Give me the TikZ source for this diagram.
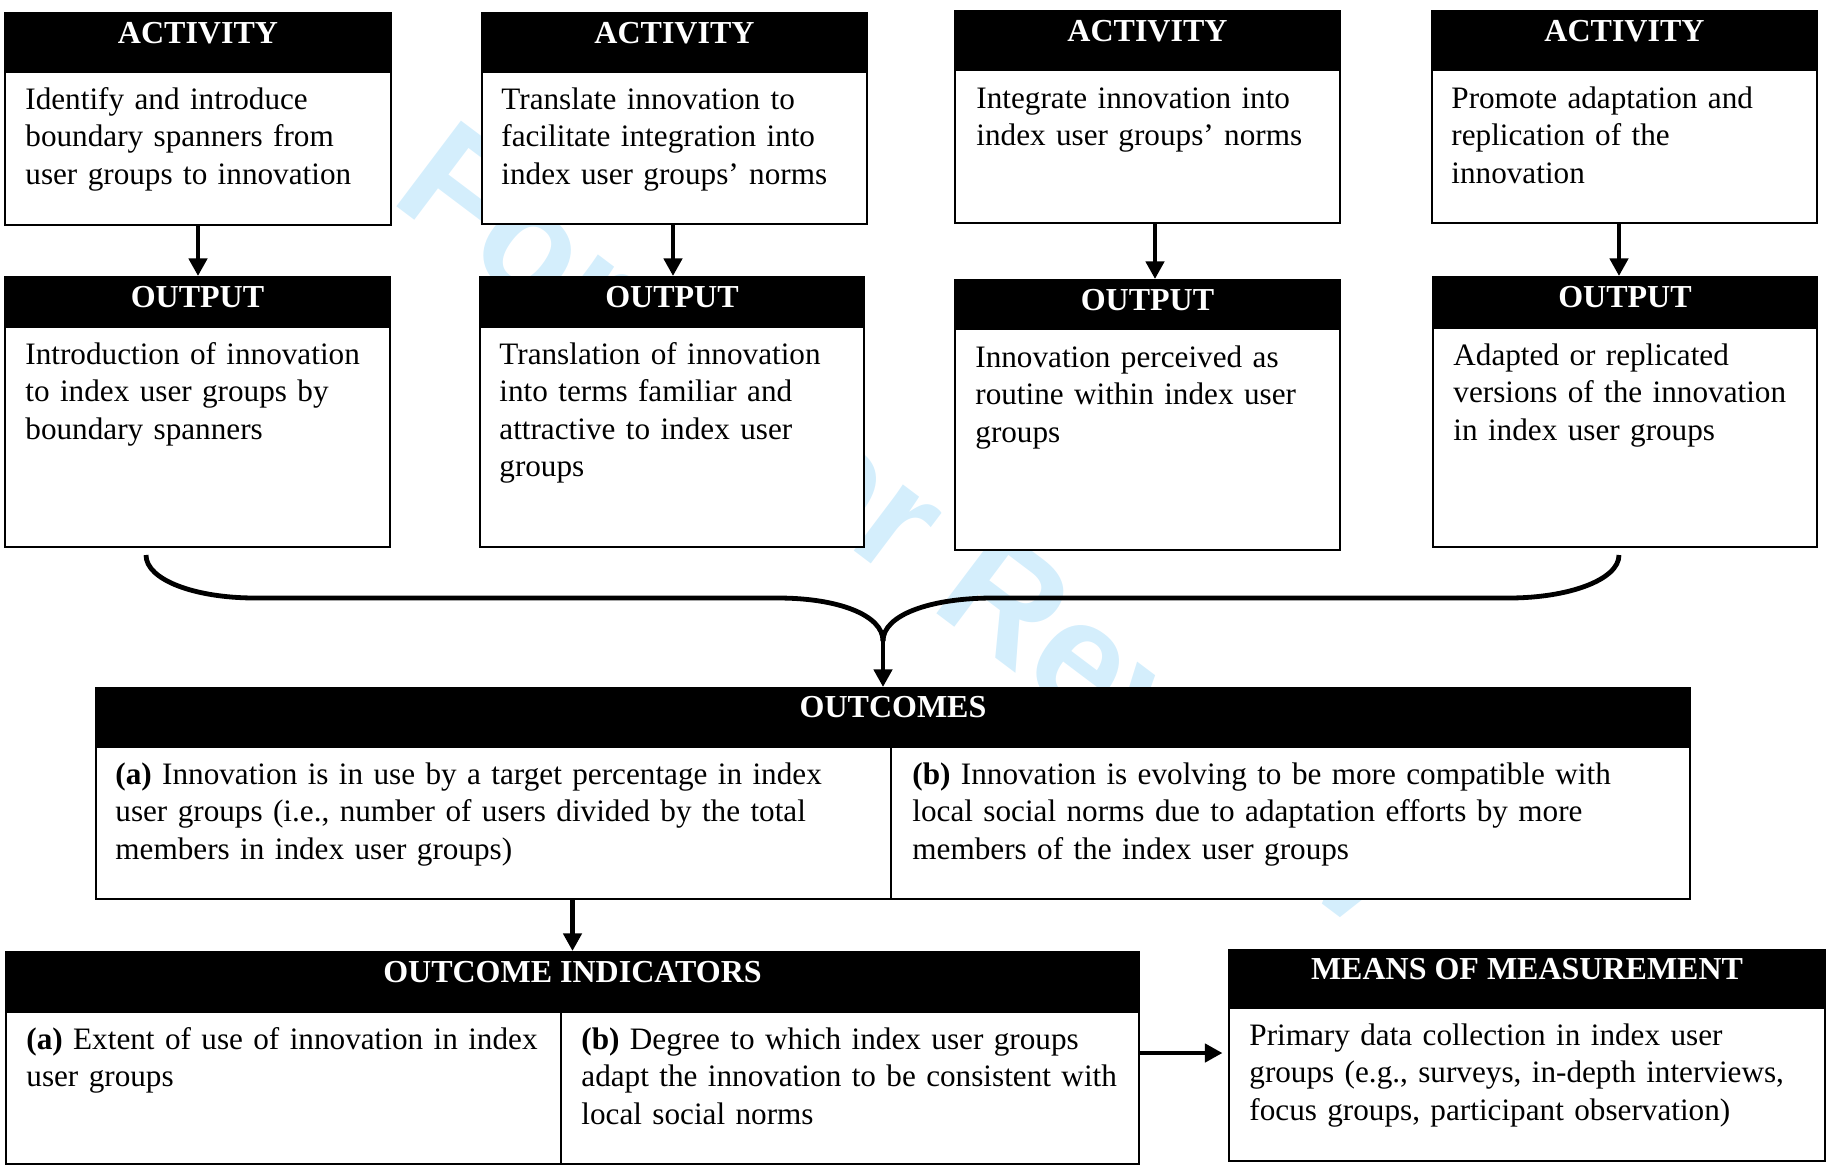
\documentclass[tikz,border=0pt]{standalone}
\usepackage{fontspec}
\setmainfont{Liberation Serif}
\newfontfamily\wmfont{Liberation Sans}
\usetikzlibrary{arrows.meta,calc}
\definecolor{wmblue}{RGB}{212,238,252}
\tikzset{
  hdr/.style={draw=black, fill=black, line width=1pt, inner sep=0pt, anchor=north west},
  bodybox/.style={draw=black, fill=white, line width=1pt, inner sep=0pt, anchor=north west},
  ttl/.style={text=white, font=\bfseries\fontsize{16}{18.8}\selectfont, anchor=base, inner sep=0pt},
  txt/.style={font=\fontsize{15.6}{18.75}\selectfont, anchor=base west, inner sep=0pt, align=left, text width=#1},
  divline/.style={draw=black, line width=1pt},
  arr/.style={line width=2.4pt, -{Triangle[length=8.8pt,width=9pt]}},
  brace/.style={line width=2.4pt, line join=round},
  wmark/.style={text=wmblue, font=\wmfont\bfseries\fontsize{78}{78}\selectfont, anchor=base west, inner sep=0pt, rotate=-37}
}
\begin{document}
\begin{tikzpicture}[x=0.5pt,y=-0.5pt]
\useasboundingbox (0,0) rectangle (1828,1169);

% watermark (behind boxes)
\node[wmark] (wm) at (388,200) {For Peer Review};

% ---------- ACTIVITY boxes ----------
\node[hdr, minimum width=193pt, minimum height=29.5pt] (a1h) at (4,12) {};
\node[bodybox, minimum width=193pt, minimum height=76.5pt] (a1) at (4,71) {};
\node[ttl] (a1t) at ($(a1h.north)+(0,31)$) {ACTIVITY};
\node[txt=180pt] (a1x) at ($(a1.north west)+(21,38)$) {Identify and introduce\\boundary spanners from\\user groups to innovation};

\node[hdr, minimum width=192.5pt, minimum height=29.5pt] (a2h) at (481,12) {};
\node[bodybox, minimum width=192.5pt, minimum height=76pt] (a2) at (481,71) {};
\node[ttl] (a2t) at ($(a2h.north)+(0,31)$) {ACTIVITY};
\node[txt=180pt] (a2x) at ($(a2.north west)+(20,38)$) {Translate innovation to\\facilitate integration into\\index user groups’ norms};

\node[hdr, minimum width=192.5pt, minimum height=29.5pt] (a3h) at (954,10) {};
\node[bodybox, minimum width=192.5pt, minimum height=76.5pt] (a3) at (954,69) {};
\node[ttl] (a3t) at ($(a3h.north)+(0,31)$) {ACTIVITY};
\node[txt=180pt] (a3x) at ($(a3.north west)+(22,39)$) {Integrate innovation into\\index user groups’ norms};

\node[hdr, minimum width=192.5pt, minimum height=29.5pt] (a4h) at (1431,10) {};
\node[bodybox, minimum width=192.5pt, minimum height=76.5pt] (a4) at (1431,69) {};
\node[ttl] (a4t) at ($(a4h.north)+(0,31)$) {ACTIVITY};
\node[txt=180pt] (a4x) at ($(a4.north west)+(20,39)$) {Promote adaptation and\\replication of the\\innovation};

% ---------- OUTPUT boxes ----------
\node[hdr, minimum width=192.5pt, minimum height=25pt] (o1h) at (4,276) {};
\node[bodybox, minimum width=192.5pt, minimum height=110pt] (o1) at (4,326) {};
\node[ttl] (o1t) at ($(o1h.north)+(0,31)$) {OUTPUT};
\node[txt=180pt] (o1x) at ($(o1.north west)+(21,38)$) {Introduction of innovation\\to index user groups by\\boundary spanners};

\node[hdr, minimum width=192pt, minimum height=25pt] (o2h) at (479,276) {};
\node[bodybox, minimum width=192pt, minimum height=110pt] (o2) at (479,326) {};
\node[ttl] (o2t) at ($(o2h.north)+(0,31)$) {OUTPUT};
\node[txt=180pt] (o2x) at ($(o2.north west)+(20,38)$) {Translation of innovation\\into terms familiar and\\attractive to index user\\groups};

\node[hdr, minimum width=192.5pt, minimum height=24.5pt] (o3h) at (954,279) {};
\node[bodybox, minimum width=192.5pt, minimum height=110.5pt] (o3) at (954,328) {};
\node[ttl] (o3t) at ($(o3h.north)+(0,31)$) {OUTPUT};
\node[txt=180pt] (o3x) at ($(o3.north west)+(21,39)$) {Innovation perceived as\\routine within index user\\groups};

\node[hdr, minimum width=192pt, minimum height=25.5pt] (o4h) at (1432,276) {};
\node[bodybox, minimum width=192pt, minimum height=109.5pt] (o4) at (1432,327) {};
\node[ttl] (o4t) at ($(o4h.north)+(0,31)$) {OUTPUT};
\node[txt=180pt] (o4x) at ($(o4.north west)+(21,38)$) {Adapted or replicated\\versions of the innovation\\in index user groups};

% activity -> output arrows
\draw[arr] ($(a1.south west)+(194,0)$) -- ($(o1h.north west)+(194,0)$);
\draw[arr] ($(a2.south west)+(192,0)$) -- ($(o2h.north west)+(194,0)$);
\draw[arr] ($(a3.south west)+(201,0)$) -- ($(o3h.north west)+(201,0)$);
\draw[arr] ($(a4.south west)+(188,0)$) -- ($(o4h.north west)+(187,0)$);

% ---------- OUTCOMES ----------
\node[hdr, minimum width=797pt, minimum height=29.5pt] (och) at (95,687) {};
\node[bodybox, minimum width=797pt, minimum height=76pt] (oc) at (95,746) {};
\node[ttl] (oct) at ($(och.north)+(0,30)$) {OUTCOMES};
\draw[divline] ($(oc.north west)+(796,0)$) -- ($(oc.south west)+(796,0)$);
\node[txt=385pt] (ocx1) at ($(oc.north west)+(20,38)$) {\textbf{(a)} Innovation is in use by a target percentage in index\\user groups (i.e., number of users divided by the total\\members in index user groups)};
\node[txt=385pt] (ocx2) at ($(oc.north west)+(817,38)$) {\textbf{(b)} Innovation is evolving to be more compatible with\\local social norms due to adaptation efforts by more\\members of the index user groups};

% brace from outputs to outcomes
\coordinate (bl) at ($(o1.south west)+(142,7)$);
\coordinate (br) at ($(o4.south west)+(187,7)$);
\coordinate (bj) at (883,641);
\draw[brace] (bl) .. controls (146,580) and (195,598) .. (255,598) -- (778,598)
  .. controls (838,598) and (883,615) .. (bj);
\draw[brace] (br) .. controls (1619,580) and (1568,598) .. (1509,598) -- (993,598)
  .. controls (930,598) and (883,615) .. (bj);
\draw[arr] (bj) -- (bj |- och.north);

% ---------- OUTCOME INDICATORS ----------
\node[hdr, minimum width=566.5pt, minimum height=30pt] (oih) at (5,951) {};
\node[bodybox, minimum width=566.5pt, minimum height=76pt] (oi) at (5,1011) {};
\node[ttl] (oit) at ($(oih.north)+(0,31)$) {OUTCOME INDICATORS};
\draw[divline] ($(oi.north west)+(556,0)$) -- ($(oi.south west)+(556,0)$);
\node[txt=265pt] (oix1) at ($(oi.north west)+(21,38)$) {\textbf{(a)} Extent of use of innovation in index\\user groups};
\node[txt=275pt] (oix2) at ($(oi.north west)+(576,38)$) {\textbf{(b)} Degree to which index user groups\\adapt the innovation to be consistent with\\local social norms};

\draw[arr] (oih.north |- oc.south) -- (oih.north);

% ---------- MEANS OF MEASUREMENT ----------
\node[hdr, minimum width=298pt, minimum height=29pt] (mmh) at (1228,949) {};
\node[bodybox, minimum width=298pt, minimum height=76.5pt] (mm) at (1228,1007) {};
\node[ttl] (mmt) at ($(mmh.north)+(0,30)$) {MEANS OF MEASUREMENT};
\node[txt=285pt] (mmx) at ($(mm.north west)+(21,38)$) {Primary data collection in index user\\groups (e.g., surveys, in-depth interviews,\\focus groups, participant observation)};

\coordinate (m1) at ($(oi.north east)+(0,42)$);
\draw[arr, shorten >=2.75pt] (m1) -- (m1 -| mm.west);

\end{tikzpicture}
\end{document}
